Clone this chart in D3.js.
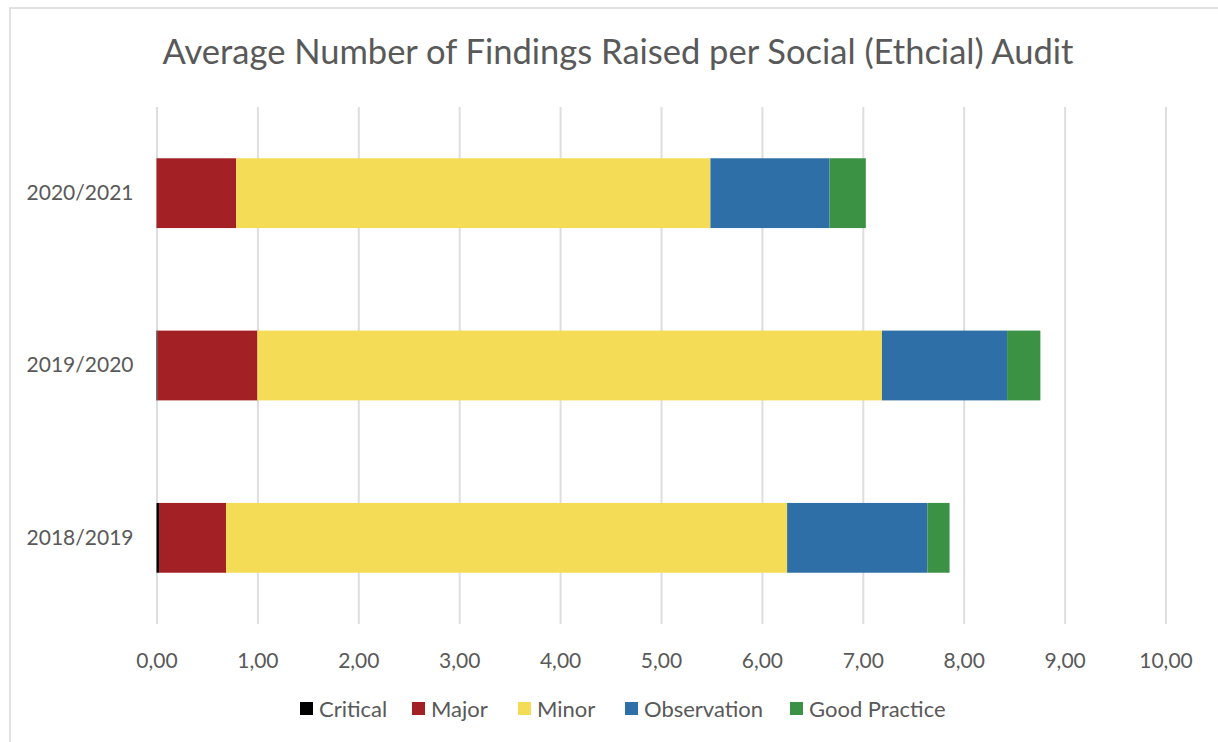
<!DOCTYPE html>
<html>
<head>
<meta charset="utf-8">
<script src="https://cdn.jsdelivr.net/npm/d3@7"></script>
<style>
  html, body { margin: 0; padding: 0; background: #ffffff; }
  svg { display: block; }
  text { font-family: Lato, "Liberation Sans", sans-serif; fill: #595959; }
</style>
</head>
<body>
<svg id="chart" width="1218" height="742"></svg>
<script>
const title = "Average Number of Findings Raised per Social (Ethcial) Audit";
const categories = ["2020/2021", "2019/2020", "2018/2019"];
const seriesNames = ["Critical", "Major", "Minor", "Observation", "Good Practice"];
const seriesColors = ["#000000", "#a32124", "#f4dc56", "#2d6fa6", "#3b9244"];
const critical    = [0.00, 0.01, 0.025];
const major       = [0.79, 0.99, 0.665];
const minor       = [4.70, 6.19, 5.56];
const observation = [1.18, 1.24, 1.39];
const goodPractice= [0.36, 0.33, 0.22];
const xTicks = [0, 1, 2, 3, 4, 5, 6, 7, 8, 9, 10];

const seriesValues = [critical, major, minor, observation, goodPractice];
const rows = categories.map((c, i) => {
  const r = { category: c };
  seriesNames.forEach((s, j) => r[s] = seriesValues[j][i]);
  return r;
});
const stacked = d3.stack().keys(seriesNames)(rows);

const svg = d3.select("#chart");
// chart frame
svg.append("rect").attr("x", 10).attr("y", 8).attr("width", 1240).attr("height", 760)
  .attr("fill", "#fff").attr("stroke", "#d9d9d9").attr("stroke-width", 1.5);

const x = d3.scaleLinear().domain([0, 10]).range([156.5, 1165.5]);
const y = d3.scaleBand().domain(categories).range([107, 624]).paddingInner(0.595).paddingOuter(0.2975);

// gridlines
const gx = svg.append("g").attr("transform", "translate(0,624)")
  .call(d3.axisBottom(x).tickValues(xTicks).tickSize(-517).tickFormat(d => d3.format(".2f")(d).replace(".", ",")));
gx.select(".domain").remove();
gx.selectAll(".tick line").attr("stroke", "#dedede").attr("stroke-width", 2);
gx.selectAll(".tick text").attr("dy", 0).attr("y", 44).style("font-size", "21px").attr("fill", "#595959");

// category axis
const gy = svg.append("g").attr("transform", "translate(156.5,0)")
  .call(d3.axisLeft(y).tickSize(0).tickPadding(23));
gy.select(".domain").remove();
gy.selectAll(".tick text").style("font-size", "21px").attr("fill", "#595959");

// bars
svg.append("g").selectAll("g").data(stacked).join("g")
  .attr("fill", (d, i) => seriesColors[i])
  .selectAll("rect").data(d => d).join("rect")
  .attr("x", d => x(d[0]))
  .attr("width", d => Math.max(0, x(d[1]) - x(d[0])))
  .attr("y", d => y(d.data.category))
  .attr("height", y.bandwidth());

// title
svg.append("text").attr("x", 618).attr("y", 64).attr("text-anchor", "middle")
  .style("font-size", "34.5px").text(title);

// legend
const legendX = [300, 412, 518, 625, 790];
const lg = svg.append("g");
seriesNames.forEach((s, i) => {
  lg.append("rect").attr("x", legendX[i]).attr("y", 702).attr("width", 13).attr("height", 13).attr("fill", seriesColors[i]);
  lg.append("text").attr("x", legendX[i] + 19).attr("y", 717).style("font-size", "22px").text(s);
});
</script>
</body>
</html>
